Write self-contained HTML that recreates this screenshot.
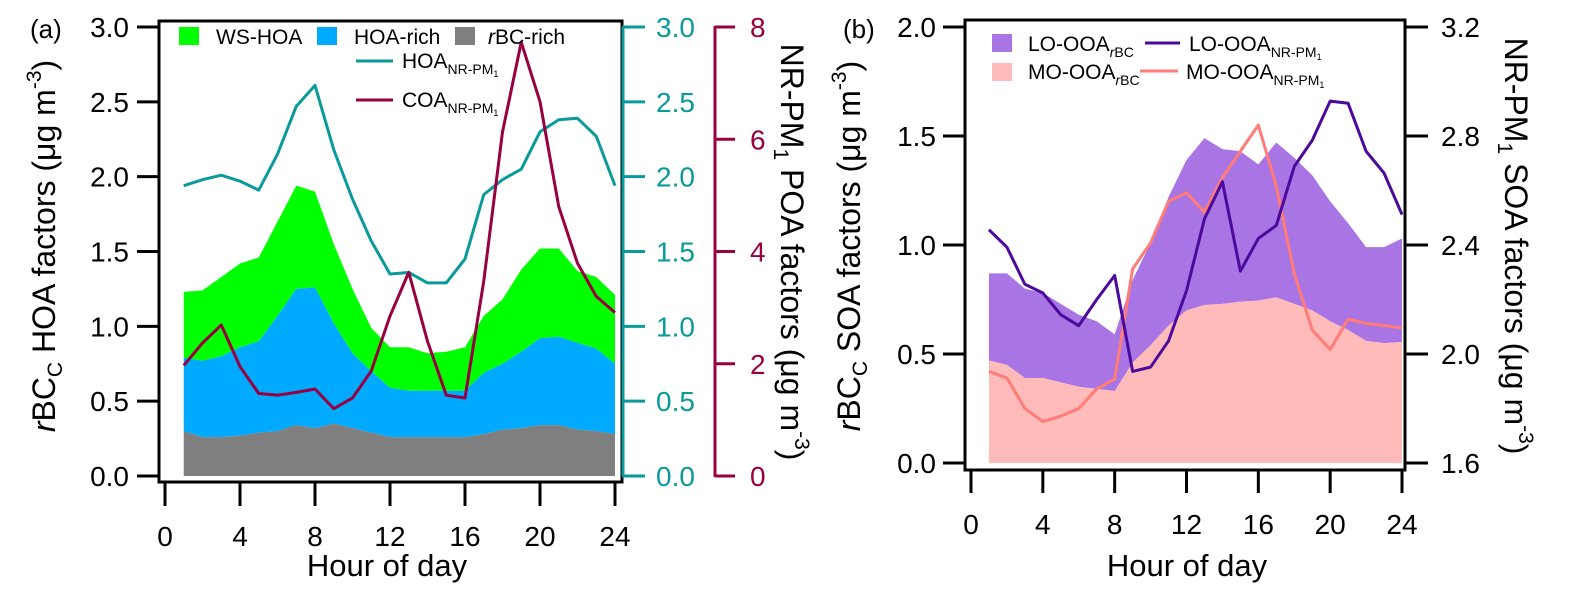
<!DOCTYPE html>
<html><head><meta charset="utf-8"><style>
html,body{margin:0;padding:0;background:#fff;}
svg{display:block;font-family:"Liberation Sans",Arial,sans-serif;}
</style></head><body>
<svg id="c" width="1573" height="595" viewBox="0 0 1573 595" xmlns="http://www.w3.org/2000/svg"></svg>
<script>
const hours=[1,2,3,4,5,6,7,8,9,10,11,12,13,14,15,16,17,18,19,20,21,22,23,24];
// Panel a (stacked, rBCc HOA factors)
const rbcRich=[0.30,0.26,0.26,0.27,0.29,0.30,0.34,0.32,0.35,0.32,0.29,0.26,0.26,0.26,0.26,0.26,0.28,0.31,0.32,0.34,0.34,0.31,0.30,0.28];
const hoaRich=[0.49,0.51,0.54,0.59,0.61,0.77,0.91,0.94,0.67,0.50,0.41,0.33,0.31,0.31,0.31,0.31,0.41,0.44,0.51,0.58,0.59,0.58,0.55,0.47];
const wsHoa=[0.44,0.47,0.53,0.56,0.56,0.63,0.69,0.64,0.53,0.43,0.29,0.27,0.29,0.25,0.26,0.29,0.38,0.43,0.55,0.60,0.59,0.48,0.48,0.46];
const hoaNR=[1.94,1.98,2.01,1.97,1.91,2.15,2.47,2.61,2.18,1.85,1.57,1.35,1.36,1.29,1.29,1.45,1.88,1.98,2.05,2.30,2.38,2.39,2.27,1.94];
const coaNR=[1.97,2.37,2.69,1.95,1.47,1.44,1.49,1.55,1.20,1.39,1.87,2.85,3.63,2.40,1.44,1.39,3.47,6.13,7.73,6.67,4.80,3.79,3.20,2.91];
// Panel b
const moOoaRbc=[0.47,0.45,0.39,0.39,0.37,0.35,0.34,0.33,0.46,0.54,0.63,0.70,0.725,0.73,0.74,0.745,0.76,0.73,0.70,0.65,0.61,0.56,0.55,0.555];
const loOoaRbc=[0.40,0.42,0.41,0.39,0.36,0.33,0.31,0.26,0.38,0.47,0.59,0.69,0.765,0.71,0.69,0.625,0.71,0.67,0.62,0.55,0.49,0.43,0.44,0.475];
const loOoaNR=[2.456,2.392,2.256,2.224,2.144,2.104,2.2,2.288,1.936,1.952,2.048,2.232,2.496,2.632,2.304,2.424,2.472,2.688,2.784,2.928,2.92,2.744,2.664,2.512];
const moOoaNR=[1.936,1.912,1.8,1.752,1.772,1.8,1.872,1.908,2.312,2.408,2.56,2.592,2.52,2.648,2.744,2.84,2.616,2.296,2.088,2.016,2.128,2.112,2.104,2.096];
const xTicks=[0,4,8,12,16,20,24];
const aLeftTicks=[0,0.5,1.0,1.5,2.0,2.5,3.0];
const aCoaTicks=[0,2,4,6,8];
const bLeftTicks=[0,0.5,1.0,1.5,2.0];
const bRightTicks=[1.6,2.0,2.4,2.8,3.2];

const svg=document.getElementById('c');
const NS='http://www.w3.org/2000/svg';
function mk(tag,attrs,parent){const e=document.createElementNS(NS,tag);for(const k in attrs)e.setAttribute(k,attrs[k]);(parent||svg).appendChild(e);return e;}
function lin(d0,d1,r0,r1){return v=>r0+(v-d0)*(r1-r0)/(d1-d0);}

const axA=lin(0,24,165,615), ayA=lin(0,3,476,27), ayCoa=lin(0,8,476,27);
function area(xs,lo,hi,x,y,fill,name){
  let d='M'+x(xs[0])+','+y(hi[0]);
  for(let i=1;i<xs.length;i++)d+='L'+x(xs[i])+','+y(hi[i]);
  for(let i=xs.length-1;i>=0;i--)d+='L'+x(xs[i])+','+y(lo[i]);
  const p=mk('path',{d:d+'Z',fill:fill});
  
  
  return p;
}
function line(xs,vs,x,y,stroke,name){
  const d=xs.map((h,i)=>(i?'L':'M')+x(h)+','+y(vs[i])).join('');
  const p=mk('path',{d:d,fill:'none',stroke:stroke,'stroke-width':3,'stroke-linejoin':'round'});
  
  
  return p;
}
const z=hours.map(()=>0);
const c1=rbcRich.slice(), c2=rbcRich.map((v,i)=>v+hoaRich[i]), c3=c2.map((v,i)=>v+wsHoa[i]);
area(hours,c2,c3,axA,ayA,'#00ff00','area-ws-hoa');
area(hours,c1,c2,axA,ayA,'#00aaff','area-hoa-rich');
area(hours,z,c1,axA,ayA,'#7f7f7f','area-rbc-rich');
line(hours,hoaNR,axA,ayA,'#0a9a9a','line-hoa-nr-pm1');
line(hours,coaNR,axA,ayCoa,'#990040','line-coa-nr-pm1');

function txt(s,attrs,name,parent){const t=mk('text',attrs,parent);t.textContent=s;return t;}
function frame(x0,y0,x1,y1,name){const r=mk('rect',{x:x0,y:y0,width:x1-x0,height:y1-y0,fill:'none',stroke:'#000','stroke-width':3});}
frame(159,21,622,482,'plot-frame-a');
aLeftTicks.forEach(v=>{const y=ayA(v);
  const l=mk('line',{x1:137,x2:159,y1:y,y2:y,stroke:'#000','stroke-width':3});
  txt(v.toFixed(1),{x:129,y:y+10,'font-size':28,'text-anchor':'end'},'y-tick-label-a');
  const l2=mk('line',{x1:622,x2:645,y1:y,y2:y,stroke:'#0a9a9a','stroke-width':3});
  txt(v.toFixed(1),{x:656,y:y+10,'font-size':28,fill:'#0a9a9a'},'teal-tick-label');
});
const ta=mk('line',{x1:623,x2:623,y1:ayA(0),y2:ayA(3),stroke:'#0a9a9a','stroke-width':3});
const ca=mk('line',{x1:715,x2:715,y1:ayCoa(0)+1,y2:ayCoa(8)-1,stroke:'#990040','stroke-width':3});
aCoaTicks.forEach(v=>{const y=ayCoa(v);
  const l=mk('line',{x1:715,x2:735,y1:y,y2:y,stroke:'#990040','stroke-width':3});
  txt(String(v),{x:750,y:y+10,'font-size':28,fill:'#990040'},'crimson-tick-label');
});
xTicks.forEach(v=>{const x=axA(v);
  const l=mk('line',{x1:x,x2:x,y1:483,y2:506,stroke:'#000','stroke-width':3});
  txt(String(v),{x:x,y:546,'font-size':28,'text-anchor':'middle'},'x-tick-label-a');
});
txt('Hour of day',{x:387,y:576,'font-size':31,'text-anchor':'middle'},'x-axis-title-a');
txt('(a)',{x:30,y:38,'font-size':26},'panel-label-a');

const axB=lin(0,24,971,1402), ayB=lin(0,2,463,27), ayBR=lin(1.6,3.2,463,27);
const m1=moOoaRbc.slice(), m2=moOoaRbc.map((v,i)=>v+loOoaRbc[i]);
area(hours,m1,m2,axB,ayB,'#a974e4','area-lo-ooa-rbc');
area(hours,z,m1,axB,ayB,'#ffbaba','area-mo-ooa-rbc');
line(hours,moOoaNR,axB,ayBR,'#ff7c78','line-mo-ooa-nr-pm1');
line(hours,loOoaNR,axB,ayBR,'#4b0a9c','line-lo-ooa-nr-pm1');
frame(965,20,1405,470,'plot-frame-b');
bLeftTicks.forEach(v=>{const y=ayB(v);
  const l=mk('line',{x1:943,x2:965,y1:y,y2:y,stroke:'#000','stroke-width':3});
  txt(v.toFixed(1),{x:936,y:y+10,'font-size':28,'text-anchor':'end'},'y-tick-label-b');
});
bRightTicks.forEach(v=>{const y=ayBR(v);
  const l=mk('line',{x1:1405,x2:1428,y1:y,y2:y,stroke:'#000','stroke-width':3});
  txt(v.toFixed(1),{x:1441,y:y+10,'font-size':28},'y-right-tick-label-b');
});
xTicks.forEach(v=>{const x=axB(v);
  const l=mk('line',{x1:x,x2:x,y1:471,y2:493,stroke:'#000','stroke-width':3});
  txt(String(v),{x:x,y:534,'font-size':28,'text-anchor':'middle'},'x-tick-label-b');
});
txt('Hour of day',{x:1187,y:576,'font-size':31,'text-anchor':'middle'},'x-axis-title-b');
txt('(b)',{x:843,y:38,'font-size':26},'panel-label-b');
</script>
<svg width="1573" height="595" style="position:absolute;left:0;top:0;font-family:'Liberation Sans',Arial,sans-serif">
 <rect x="179" y="27" width="20" height="18" fill="#00ff00"/>
 <text x="216" y="44" font-size="21">WS-HOA</text>
 <rect x="317" y="27" width="20" height="18" fill="#00aaff"/>
 <text x="354" y="44" font-size="21">HOA-rich</text>
 <rect x="455" y="27" width="20" height="18" fill="#7f7f7f"/>
 <text x="488" y="44" font-size="21"><tspan font-style="italic">r</tspan>BC-rich</text>
 <line x1="356" x2="393" y1="61" y2="61" stroke="#0a9a9a" stroke-width="3"/>
 <text x="402" y="68" font-size="21">HOA<tspan font-size="14" dy="6">NR-PM</tspan><tspan font-size="9" dy="3">1</tspan></text>
 <line x1="356" x2="393" y1="100" y2="100" stroke="#990040" stroke-width="3"/>
 <text x="402" y="107" font-size="21">COA<tspan font-size="14" dy="6">NR-PM</tspan><tspan font-size="9" dy="3">1</tspan></text>
 <text transform="translate(55,246) rotate(-90)" font-size="32" text-anchor="middle"><tspan font-style="italic">r</tspan>BC<tspan font-size="21" dy="7">C</tspan><tspan dy="-7"> HOA factors (μg m</tspan><tspan font-size="21" dy="-14">-3</tspan><tspan dy="14">)</tspan></text>
 <text transform="translate(781,252) rotate(90)" font-size="32" text-anchor="middle">NR-PM<tspan font-size="21" dy="7">1</tspan><tspan dy="-7"> POA factors (μg m</tspan><tspan font-size="21" dy="-14">-3</tspan><tspan dy="14">)</tspan></text>
 <rect x="992" y="34" width="20" height="18" fill="#a974e4"/>
 <text x="1028" y="51" font-size="21">LO-OOA<tspan font-size="14" dy="6" font-style="italic">r</tspan><tspan font-size="14">BC</tspan></text>
 <line x1="1145" x2="1180" y1="43" y2="43" stroke="#4b0a9c" stroke-width="3"/>
 <text x="1189" y="51" font-size="21">LO-OOA<tspan font-size="14" dy="6">NR-PM</tspan><tspan font-size="9" dy="3">1</tspan></text>
 <rect x="992" y="63" width="20" height="18" fill="#ffbaba"/>
 <text x="1028" y="79" font-size="21">MO-OOA<tspan font-size="14" dy="6" font-style="italic">r</tspan><tspan font-size="14">BC</tspan></text>
 <line x1="1140" x2="1178" y1="71" y2="71" stroke="#ff7c78" stroke-width="3"/>
 <text x="1186" y="79" font-size="21">MO-OOA<tspan font-size="14" dy="6">NR-PM</tspan><tspan font-size="9" dy="3">1</tspan></text>
 <text transform="translate(860,246) rotate(-90)" font-size="32" text-anchor="middle"><tspan font-style="italic">r</tspan>BC<tspan font-size="21" dy="7">C</tspan><tspan dy="-7"> SOA factors (μg m</tspan><tspan font-size="21" dy="-14">-3</tspan><tspan dy="14">)</tspan></text>
 <text transform="translate(1505,246) rotate(90)" font-size="32" text-anchor="middle">NR-PM<tspan font-size="21" dy="7">1</tspan><tspan dy="-7"> SOA factors (μg m</tspan><tspan font-size="21" dy="-14">-3</tspan><tspan dy="14">)</tspan></text>
</svg>
</body></html>
